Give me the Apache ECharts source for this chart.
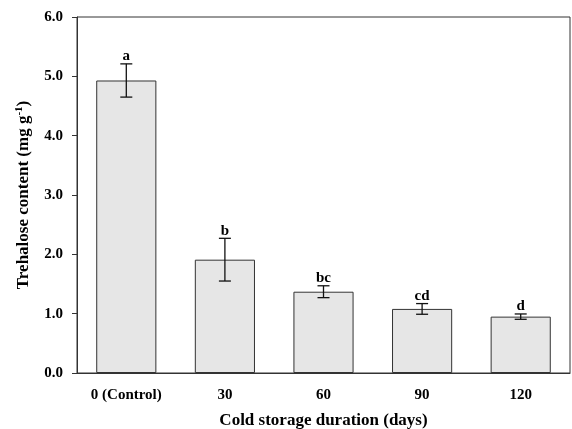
<!DOCTYPE html>
<html>
<head>
<meta charset="utf-8">
<script src="https://cdn.jsdelivr.net/npm/echarts@6/dist/echarts.min.js"></script>
<style>
html,body{margin:0;padding:0;background:#fff;}
#chart{width:572px;height:429px;}
</style>
</head>
<body>
<div id="chart"></div>
<script>
var categories = ['0 (Control)', '30', '60', '90', '120'];
var means = [4.93, 1.91, 1.37, 1.08, 0.95];
var errors = [0.28, 0.36, 0.10, 0.09, 0.045];
var letters = ['a', 'b', 'bc', 'cd', 'd'];
var yTicks = [0, 1, 2, 3, 4, 5, 6];

var errData = means.map(function (m, i) {
  return [i, m - errors[i], m + errors[i], letters[i]];
});

var FONT = '"Liberation Serif", "Times New Roman", serif';
var chart = echarts.init(document.getElementById('chart'));
chart.setOption({
  animation: false,
  backgroundColor: '#fff',
  grid: {
    left: 77, right: 2, top: 17, bottom: 56,
    outerBoundsMode: 'none',
    containLabel: false,
    show: true, borderColor: '#333', borderWidth: 1, backgroundColor: 'transparent'
  },
  xAxis: {
    type: 'category',
    data: categories,
    name: 'Cold storage duration (days)',
    nameLocation: 'middle',
    nameGap: 39,
    nameTextStyle: { fontFamily: FONT, fontWeight: 'bold', fontSize: 17, color: '#000' },
    axisLine: { lineStyle: { color: '#333', width: 1 } },
    axisTick: { alignWithLabel: true, length: 5, lineStyle: { color: '#333' } },
    axisLabel: { fontFamily: FONT, fontWeight: 'bold', fontSize: 15, color: '#000', margin: 15 },
    splitLine: { show: false }
  },
  yAxis: {
    type: 'value',
    min: yTicks[0],
    max: yTicks[yTicks.length - 1],
    interval: 1,
    name: '{n|Trehalose content (mg g}{s|-1}{n|)}',
    nameLocation: 'middle',
    nameGap: 44,
    nameRotate: 90,
    nameTextStyle: {
      fontFamily: FONT, fontWeight: 'bold', fontSize: 17, color: '#000',
      rich: {
        n: { fontFamily: FONT, fontWeight: 'bold', fontSize: 17, color: '#000' },
        s: { fontFamily: FONT, fontWeight: 'bold', fontSize: 11, color: '#000', verticalAlign: 'top', padding: [0, 0, 8, 0] }
      }
    },
    axisLine: { show: true, lineStyle: { color: '#333', width: 1 } },
    axisTick: { show: true, length: 5, lineStyle: { color: '#333' } },
    axisLabel: {
      fontFamily: FONT, fontWeight: 'bold', fontSize: 15, color: '#000', margin: 14,
      formatter: function (v) { return v.toFixed(1); }
    },
    splitLine: { show: false }
  },
  series: [
    {
      type: 'bar',
      data: means,
      barWidth: '61%',
      itemStyle: { color: '#e6e6e6', borderColor: '#333', borderWidth: 1 }
    },
    {
      type: 'custom',
      data: errData,
      z: 10,
      renderItem: function (params, api) {
        var x = api.value(0);
        var lo = api.coord([x, api.value(1)]);
        var hi = api.coord([x, api.value(2)]);
        var hw = 6;
        var st = { stroke: '#111', lineWidth: 1.3 };
        return {
          type: 'group',
          children: [
            { type: 'line', shape: { x1: lo[0], y1: lo[1], x2: hi[0], y2: hi[1] }, style: st },
            { type: 'line', shape: { x1: lo[0] - hw, y1: lo[1], x2: lo[0] + hw, y2: lo[1] }, style: st },
            { type: 'line', shape: { x1: hi[0] - hw, y1: hi[1], x2: hi[0] + hw, y2: hi[1] }, style: st },
            {
              type: 'text',
              style: {
                x: hi[0], y: hi[1],
                text: letters[params.dataIndex],
                textAlign: 'center', textVerticalAlign: 'bottom',
                font: 'bold 15px ' + FONT, fill: '#000'
              }
            }
          ]
        };
      }
    }
  ]
});
</script>
</body>
</html>
